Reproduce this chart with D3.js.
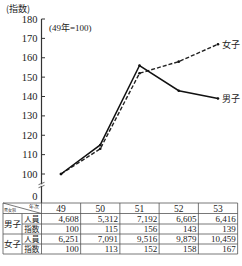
<!DOCTYPE html>
<html lang="ja">
<head>
<meta charset="utf-8">
<script src="https://d3js.org/d3.v7.min.js"></script>
<style>
  body { margin: 0; background: #fff; }
  svg text { fill: #222; }
  .num { font-family: "Liberation Serif", "DejaVu Serif", serif; }
  .cjk { font-family: "Noto Sans CJK JP", sans-serif; }
  .grid { stroke: #555; stroke-width: 0.8; }
</style>
</head>
<body>
<div id="chart"></div>
<script>
var years = ["49", "50", "51", "52", "53"];
var maleCount = [4608, 5312, 7192, 6605, 6416];
var maleIndex = [100, 115, 156, 143, 139];
var femaleCount = [6251, 7091, 9516, 9879, 10459];
var femaleIndex = [100, 113, 152, 158, 167];
var yTicks = [100, 110, 120, 130, 140, 150, 160, 170, 180];

var width = 242, height = 266;
var svg = d3.select("#chart").append("svg")
    .attr("width", width).attr("height", height);

var x = d3.scalePoint().domain(years).range([61, 218]);
var y = d3.scaleLinear().domain([100, 180]).range([174, 19]);
var axisX = 41.5;

// y axis
svg.append("line")
    .attr("x1", axisX).attr("x2", axisX)
    .attr("y1", y(180)).attr("y2", 203)
    .attr("stroke", "#333").attr("stroke-width", 1.2);
svg.selectAll(".ytick").data(yTicks).enter().append("line")
    .attr("x1", axisX).attr("x2", axisX + 3.5)
    .attr("y1", d => y(d)).attr("y2", d => y(d))
    .attr("stroke", "#333").attr("stroke-width", 1);
svg.selectAll(".ylab").data(yTicks).enter().append("text")
    .attr("class", "num")
    .attr("x", axisX - 4).attr("y", d => y(d) + 3.5)
    .attr("text-anchor", "end").attr("font-size", 10.5)
    .text(d => d);
svg.append("text").attr("class", "num")
    .attr("x", axisX - 4).attr("y", 200)
    .attr("text-anchor", "end").attr("font-size", 10.5).text("0");

// axis break mark
[183.5, 186.5].forEach(function(b) {
  svg.append("line")
      .attr("x1", axisX - 3).attr("x2", axisX + 3)
      .attr("y1", b + 1.2).attr("y2", b - 1.2)
      .attr("stroke", "#444").attr("stroke-width", 0.8);
});
svg.append("rect").attr("x", axisX - 1).attr("y", 184.3)
    .attr("width", 2).attr("height", 1.6).attr("fill", "#fff");

svg.append("text").attr("class", "cjk")
    .attr("x", 6).attr("y", 12).attr("font-size", 9).text("(指数)");
svg.append("text").attr("x", 49).attr("y", 31).attr("font-size", 9)
    .html('<tspan class="num">(49</tspan><tspan class="cjk">年</tspan><tspan class="num">=100)</tspan>');

// series
var line = d3.line().x((d, i) => x(years[i])).y(d => y(d));
svg.append("path").datum(femaleIndex).attr("d", line)
    .attr("fill", "none").attr("stroke", "#222").attr("stroke-width", 1.4)
    .attr("stroke-dasharray", "4,2");
svg.append("path").datum(maleIndex).attr("d", line)
    .attr("fill", "none").attr("stroke", "#111").attr("stroke-width", 1.5);
[femaleIndex, maleIndex].forEach(function(s) {
  svg.selectAll(null).data(s).enter().append("circle")
      .attr("cx", (d, i) => x(years[i])).attr("cy", d => y(d))
      .attr("r", 1.3).attr("fill", "#111");
});
svg.append("text").attr("class", "cjk").attr("x", 222)
    .attr("y", y(femaleIndex[4]) + 3.5).attr("font-size", 9).text("女子");
svg.append("text").attr("class", "cjk").attr("x", 222)
    .attr("y", y(maleIndex[4]) + 3.5).attr("font-size", 9).text("男子");

// table
var step = x.step();
var colL = years.map(d => x(d) - step / 2);
var tRight = x(years[4]) + step / 2;
var rows = [203, 213.5, 224, 234, 244, 254];
var tLeft = 3, subL = 22;
var g = svg.append("g");
rows.forEach(function(r, i) {
  var x1 = (i === 2 || i === 4) ? subL : tLeft;
  g.append("line").attr("class", "grid").attr("x1", x1).attr("x2", tRight)
      .attr("y1", r).attr("y2", r);
});
[tLeft, axisX].concat(colL.slice(1), [tRight]).forEach(function(c) {
  g.append("line").attr("class", "grid").attr("x1", c).attr("x2", c)
      .attr("y1", rows[0]).attr("y2", rows[5]);
});
g.append("line").attr("class", "grid").attr("x1", subL).attr("x2", subL)
    .attr("y1", rows[1]).attr("y2", rows[5]);
g.append("line").attr("class", "grid").attr("x1", tLeft).attr("x2", axisX)
    .attr("y1", rows[0]).attr("y2", rows[1]).attr("stroke-width", 0.6);
g.append("text").attr("class", "cjk").attr("x", 39).attr("y", 208)
    .attr("text-anchor", "end").attr("font-size", 5).text("年次");
g.append("text").attr("class", "cjk").attr("x", 4).attr("y", 212.3)
    .attr("font-size", 4).text("男女別");

g.selectAll(".hdr").data(years).enter().append("text").attr("class", "num")
    .attr("x", d => x(d)).attr("y", rows[1] - 2)
    .attr("text-anchor", "middle").attr("font-size", 9.5).text(d => d);

var fmt = d3.format(",");
var bodyRows = [
  { vals: maleCount.map(fmt), lab: "人員" },
  { vals: maleIndex, lab: "指数" },
  { vals: femaleCount.map(fmt), lab: "人員" },
  { vals: femaleIndex, lab: "指数" }
];
bodyRows.forEach(function(row, ri) {
  var base = rows[ri + 2] - 2;
  g.append("text").attr("class", "cjk").attr("x", (subL + axisX) / 2)
      .attr("y", base - 0.3).attr("text-anchor", "middle").attr("font-size", 7.5)
      .text(row.lab);
  g.selectAll(null).data(row.vals).enter().append("text").attr("class", "num")
      .attr("x", (d, i) => colL[i] + step - 2).attr("y", base)
      .attr("text-anchor", "end").attr("font-size", 9).text(d => d);
});
g.append("text").attr("class", "cjk").attr("x", (tLeft + subL) / 2)
    .attr("y", rows[2] + 3).attr("text-anchor", "middle").attr("font-size", 8.5)
    .text("男子");
g.append("text").attr("class", "cjk").attr("x", (tLeft + subL) / 2)
    .attr("y", rows[4] + 3).attr("text-anchor", "middle").attr("font-size", 8.5)
    .text("女子");
</script>
</body>
</html>
